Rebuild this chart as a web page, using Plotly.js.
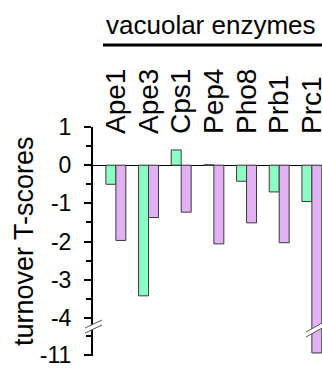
<!DOCTYPE html>
<html>
<head>
<meta charset="utf-8">
<script src="https://cdn.plot.ly/plotly-3.0.1.min.js"></script>
<style>html,body{margin:0;padding:0;background:#fff}#chart{width:322px;height:368px}</style>
</head>
<body>
<div id="chart"></div>
<script>
var categories = ['Ape1', 'Ape3', 'Cps1', 'Pep4', 'Pho8', 'Prb1', 'Prc1'];
var seriesGreen = [-0.50, -3.42, 0.40, 0.01, -0.42, -0.70, -0.95];
var seriesPurple = [-1.97, -1.37, -1.23, -2.06, -1.51, -2.03, -10.95];
var upperTickVals = [1, 0, -1, -2, -3, -4];
var upperTickText = ['1', '0', '-1', '-2', '-3', '-4'];
var lowerTickVals = [-11];
var lowerTickText = ['-11'];
var chartTitle = 'vacuolar enzymes';
var yTitle = 'turnover T-scores';

var GREEN = '#8dffc5', PURPLE = '#e1b1f3', EDGE = '#3a3a3a';
var FONT = 'Liberation Sans, Arial, Helvetica, sans-serif';

// pixel helpers for decorations (plot area: x 93..322, y 127..356)
function px(x) { return (x - 93) / 229; }
function py(y) { return (356 - y) / 229; }

function bar(y, color, yaxis) {
  return {type: 'bar', x: categories, y: y, yaxis: yaxis, xaxis: 'x',
    marker: {color: color, line: {color: EDGE, width: 1}}, showlegend: false, hoverinfo: 'skip'};
}
var traces = [
  bar(seriesGreen, GREEN, 'y'), bar(seriesPurple, PURPLE, 'y'),
  bar(seriesGreen, GREEN, 'y2'), bar(seriesPurple, PURPLE, 'y2')
];

function band(x0, y0, x1, y1, gap) {
  var p = 'M' + px(x0) + ',' + py(y0) + ' L' + px(x1) + ',' + py(y1) +
    ' L' + px(x1) + ',' + py(y1 + gap) + ' L' + px(x0) + ',' + py(y0 + gap) + ' Z';
  return [
    {type: 'path', xref: 'paper', yref: 'paper', path: p, fillcolor: '#ffffff', line: {width: 0}, layer: 'above'},
    {type: 'line', xref: 'paper', yref: 'paper', x0: px(x0), y0: py(y0), x1: px(x1), y1: py(y1), line: {color: '#555', width: 1}, layer: 'above'},
    {type: 'line', xref: 'paper', yref: 'paper', x0: px(x0), y0: py(y0 + gap), x1: px(x1), y1: py(y1 + gap), line: {color: '#555', width: 1}, layer: 'above'}
  ];
}

var shapes = [].concat(
  band(85, 328, 102, 320, 5),
  band(306, 332, 324, 322, 5),
  [{type: 'line', xref: 'paper', yref: 'paper', x0: px(103), x1: px(323), y0: py(45), y1: py(45), line: {color: '#000', width: 3}}]
);

var layout = {
  width: 322, height: 368,
  margin: {l: 93, r: 0, t: 127, b: 12, pad: 0},
  paper_bgcolor: '#fff', plot_bgcolor: '#fff',
  font: {family: FONT, color: '#000', size: 23},
  barmode: 'group', bargap: 0.39, bargroupgap: 0,
  showlegend: false,
  xaxis: {
    type: 'category', range: [-0.7, 6.31], side: 'top', anchor: 'y',
    tickmode: 'linear', tick0: 0, dtick: 1,
    showline: false, showgrid: false, zeroline: false, ticks: '',
    tickangle: -90, tickfont: {size: 28, family: FONT}, ticklabelstandoff: -8
  },
  yaxis: {
    domain: [0.131, 1], range: [-4.21, 1], anchor: 'x',
    showline: true, linecolor: '#000', linewidth: 2, showgrid: false,
    zeroline: true, zerolinecolor: '#000', zerolinewidth: 1,
    ticks: 'outside', ticklen: 7, tickwidth: 2, tickcolor: '#000',
    tickvals: upperTickVals, ticktext: upperTickText, ticklabelstandoff: 8,
    minor: {dtick: 0.5, ticks: 'outside', ticklen: 5, tickwidth: 2, tickcolor: '#000', showgrid: false}
  },
  yaxis2: {
    domain: [0, 0.131], range: [-11.03, -10.24], anchor: 'x',
    showline: true, linecolor: '#000', linewidth: 2, showgrid: false, zeroline: false,
    ticks: 'outside', ticklen: 7, tickwidth: 2, tickcolor: '#000',
    tickvals: lowerTickVals, ticktext: lowerTickText, ticklabelstandoff: 8,
    minor: {tickvals: [-10.5], ticks: 'outside', ticklen: 5, tickwidth: 2, tickcolor: '#000', showgrid: false}
  },
  annotations: [
    {text: chartTitle, xref: 'paper', yref: 'paper', x: px(211), y: py(25), xanchor: 'center', yanchor: 'middle',
      showarrow: false, font: {size: 26, family: FONT}},
    {text: yTitle, xref: 'paper', yref: 'paper', x: px(24), y: py(241), xanchor: 'center', yanchor: 'middle',
      textangle: -90, showarrow: false, font: {size: 27, family: FONT}}
  ],
  shapes: shapes
};

Plotly.newPlot('chart', traces, layout, {staticPlot: true, displayModeBar: false});
</script>
</body>
</html>
